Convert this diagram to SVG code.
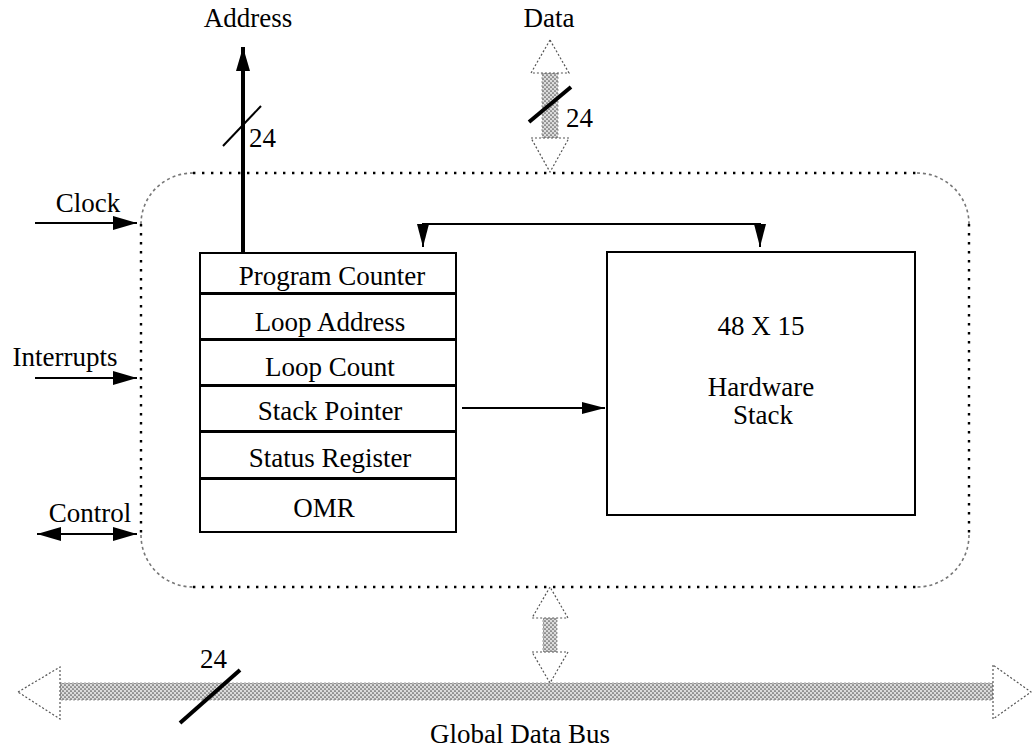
<svg xmlns="http://www.w3.org/2000/svg" width="1033" height="752" viewBox="0 0 1033 752">
  <style>
    text { font-family: "Liberation Serif", "Times New Roman", serif; font-size: 27px; fill: #000; }
    .mid { text-anchor: middle; }
    .box { fill: #fff; stroke: #000; stroke-width: 2; }
    .wire { fill: none; stroke: #000; stroke-width: 2; }
    .edge { fill: none; stroke: #000; stroke-width: 2.4; stroke-dasharray: 2.4 6.6; }
    .corner { fill: none; stroke: #777; stroke-width: 1.6; stroke-dasharray: 3 3; }
    .hollow { fill: #fff; stroke: #555; stroke-width: 1.2; stroke-dasharray: 2 2; }
    .shaft { fill: url(#dots); stroke: #888; stroke-width: 0.8; stroke-dasharray: 2 2; }
    .slash { stroke: #000; stroke-width: 4; stroke-linecap: butt; }
  </style>
  <defs>
    <pattern id="dots" width="4" height="4" patternUnits="userSpaceOnUse">
      <rect width="4" height="4" fill="#dcdcdc"/>
      <circle cx="1" cy="1" r="0.85" fill="#555"/>
      <circle cx="3" cy="3" r="0.85" fill="#555"/>
    </pattern>
    <marker id="head" viewBox="0 0 24 14" refX="24" refY="7" markerWidth="24" markerHeight="14" markerUnits="userSpaceOnUse" orient="auto-start-reverse">
      <path d="M0,0 L24,7 L0,14 Z" fill="#000"/>
    </marker>
    <marker id="headS" viewBox="0 0 23 12" refX="23" refY="6" markerWidth="23" markerHeight="12" markerUnits="userSpaceOnUse" orient="auto">
      <path d="M0,0 L23,6 L0,12 Z" fill="#000"/>
    </marker>
  </defs>

  <!-- heading glyph running off the top edge -->
  <text x="283" y="-17" style="font-size:72px">g</text>

  <!-- control unit boundary: dotted straight runs, finer grey corners -->
  <g id="boundary">
    <line class="edge" x1="193" y1="173" x2="917" y2="173"/>
    <line class="edge" x1="193" y1="587" x2="917" y2="587"/>
    <line class="edge" x1="141" y1="224" x2="141" y2="535"/>
    <line class="edge" x1="969" y1="224" x2="969" y2="535"/>
    <path class="corner" d="M193,173 A52,51 0 0 0 141,224"/>
    <path class="corner" d="M917,173 A52,51 0 0 1 969,224"/>
    <path class="corner" d="M141,535 A52,52 0 0 0 193,587"/>
    <path class="corner" d="M969,535 A52,52 0 0 1 917,587"/>
  </g>

  <!-- register file -->
  <g id="program-counter">
    <rect class="box" x="200" y="253" width="256" height="40"/>
    <text class="mid" x="332" y="285">Program Counter</text>
  </g>
  <g id="loop-address">
    <rect class="box" x="200" y="294" width="256" height="45"/>
    <text class="mid" x="330" y="331">Loop Address</text>
  </g>
  <g id="loop-count">
    <rect class="box" x="200" y="340" width="256" height="45"/>
    <text class="mid" x="330" y="376">Loop Count</text>
  </g>
  <g id="stack-pointer">
    <rect class="box" x="200" y="386" width="256" height="45"/>
    <text class="mid" x="330" y="420">Stack Pointer</text>
  </g>
  <g id="status-register">
    <rect class="box" x="200" y="432" width="256" height="46"/>
    <text class="mid" x="330" y="467">Status Register</text>
  </g>
  <g id="omr">
    <rect class="box" x="200" y="479" width="256" height="53"/>
    <text class="mid" x="324" y="517">OMR</text>
  </g>

  <!-- hardware stack -->
  <g id="hardware-stack">
    <rect class="box" x="607" y="252" width="308" height="263"/>
    <text class="mid" x="761" y="335">48 X 15</text>
    <text class="mid" x="761" y="396">Hardware</text>
    <text class="mid" x="763" y="424">Stack</text>
  </g>

  <!-- external signal labels -->
  <g id="labels">
    <text class="mid" x="248" y="27">Address</text>
    <text class="mid" x="549" y="27">Data</text>
    <text class="mid" x="88" y="212">Clock</text>
    <text class="mid" x="65" y="366">Interrupts</text>
    <text class="mid" x="90" y="522">Control</text>
    <text class="mid" x="520" y="743">Global Data Bus</text>
    <text x="249" y="147">24</text>
    <text x="566" y="127">24</text>
    <text x="200" y="668">24</text>
  </g>

  <g id="connectors">
    <!-- address output -->
    <line x1="243" y1="253" x2="243" y2="47" stroke="#000" stroke-width="4" marker-end="url(#head)"/>
    <line x1="223" y1="146" x2="261" y2="106" stroke="#000" stroke-width="2"/>

    <!-- data port -->
    <rect class="shaft" x="542" y="73" width="16" height="65"/>
    <polygon class="hollow" points="550,40 531,73 569,73"/>
    <polygon class="hollow" points="531,138 569,138 550,172"/>
    <line class="slash" x1="529" y1="122" x2="571" y2="87"/>

    <!-- inputs on the left -->
    <line class="wire" x1="35" y1="223" x2="137" y2="223" marker-end="url(#head)"/>
    <line class="wire" x1="35" y1="378" x2="137" y2="378" marker-end="url(#head)"/>
    <line class="wire" x1="37" y1="534" x2="137" y2="534" marker-start="url(#head)" marker-end="url(#head)"/>

    <!-- program counter / hardware stack loop -->
    <polyline class="wire" points="423,247 423,224 760,224 760,247"/>
    <path d="M417,224 L429,224 L423,247 Z" fill="#000"/>
    <path d="M754,224 L766,224 L760,247 Z" fill="#000"/>

    <!-- stack pointer into hardware stack -->
    <line class="wire" x1="462" y1="408" x2="605" y2="408" marker-end="url(#headS)"/>

    <!-- link down to the global data bus -->
    <rect class="shaft" x="543" y="618" width="14" height="34"/>
    <polygon class="hollow" points="550,587 532,618 568,618"/>
    <polygon class="hollow" points="532,652 568,652 550,683"/>

    <!-- global data bus -->
    <rect class="shaft" x="60" y="683" width="933" height="17"/>
    <polygon class="hollow" points="18,692 60,667 60,719"/>
    <polygon class="hollow" points="993,665 993,719 1031,692"/>
    <line class="slash" x1="180" y1="723" x2="240" y2="670"/>
  </g>
</svg>
